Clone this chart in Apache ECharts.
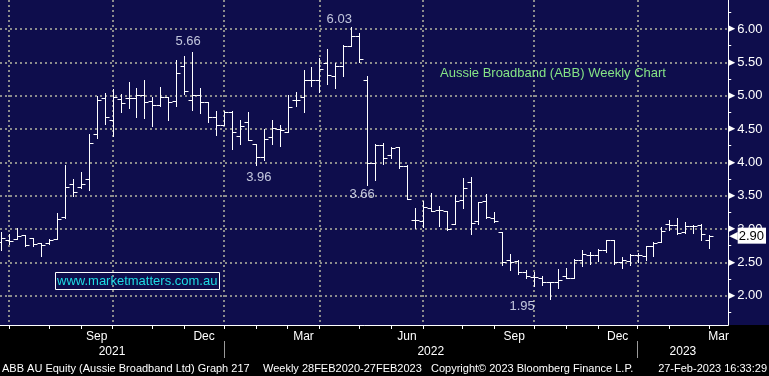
<!DOCTYPE html>
<html>
<head>
<meta charset="utf-8">
<script src="https://cdn.jsdelivr.net/npm/echarts@6/dist/echarts.min.js"></script>
<style>
  html, body { margin: 0; padding: 0; background: #000; }
  #chart { width: 769px; height: 376px; }
</style>
</head>
<body>
<div id="chart"></div>
<script>
// weekly bars (Friday dates, last one is the partial week as of 27 Feb)
const weeks = [
  '2021-06-18','2021-06-25','2021-07-02','2021-07-09','2021-07-16','2021-07-23','2021-07-30',
  '2021-08-06','2021-08-13','2021-08-20','2021-08-27',
  '2021-09-03','2021-09-10','2021-09-17','2021-09-24',
  '2021-10-01','2021-10-08','2021-10-15','2021-10-22','2021-10-29',
  '2021-11-05','2021-11-12','2021-11-19','2021-11-26',
  '2021-12-03','2021-12-10','2021-12-17','2021-12-24','2021-12-31',
  '2022-01-07','2022-01-14','2022-01-21','2022-01-28',
  '2022-02-04','2022-02-11','2022-02-18','2022-02-25',
  '2022-03-04','2022-03-11','2022-03-18','2022-03-25',
  '2022-04-01','2022-04-08','2022-04-15','2022-04-22','2022-04-29',
  '2022-05-06','2022-05-13','2022-05-20','2022-05-27',
  '2022-06-03','2022-06-10','2022-06-17','2022-06-24',
  '2022-07-01','2022-07-08','2022-07-15','2022-07-22','2022-07-29',
  '2022-08-05','2022-08-12','2022-08-19','2022-08-26',
  '2022-09-02','2022-09-09','2022-09-16','2022-09-23','2022-09-30',
  '2022-10-07','2022-10-14','2022-10-21','2022-10-28',
  '2022-11-04','2022-11-11','2022-11-18','2022-11-25',
  '2022-12-02','2022-12-09','2022-12-16','2022-12-23','2022-12-30',
  '2023-01-06','2023-01-13','2023-01-20','2023-01-27',
  '2023-02-03','2023-02-10','2023-02-17','2023-02-24','2023-02-27'
];
const opens = [
  2.80, 2.83, 2.85, 2.91, 2.86, 2.79, 2.79, 2.85, 3.18, 3.68,
  3.63, 3.75, 4.43, 4.96, 4.63, 4.95, 4.97, 4.97, 5.01, 4.92,
  4.86, 4.98, 4.92, 5.44, 4.94, 5.01, 4.90, 4.68, 4.56, 4.75,
  4.40, 4.61, 4.27, 4.08, 4.38, 4.50, 4.46, 4.93, 4.98, 5.23,
  5.23, 5.49, 5.29, 5.45, 5.75, 5.89, 5.24, 3.99, 4.26, 4.11,
  4.23, 3.95, 3.13, 3.12, 3.32, 3.29, 3.27, 3.08, 3.44, 3.70,
  3.12, 3.42, 3.16, 2.95, 2.54, 2.52, 2.36, 2.28, 2.27, 2.21,
  2.21, 2.29, 2.26, 2.54, 2.61, 2.61, 2.69, 2.83, 2.51, 2.52,
  2.61, 2.60, 2.75, 2.80, 3.07, 3.06, 2.95, 3.05, 3.06, 2.83
];
const highs = [
  2.95, 2.92, 3.02, 2.91, 2.86, 2.79, 2.85, 3.24, 3.96, 3.75,
  3.86, 4.43, 4.99, 5.04, 5.10, 5.03, 5.21, 5.11, 5.24, 4.98,
  5.13, 4.98, 5.54, 5.59, 5.66, 5.12, 4.91, 4.77, 4.77, 4.77,
  4.64, 4.76, 4.27, 4.50, 4.63, 4.56, 5.01, 5.06, 5.39, 5.43,
  5.56, 5.70, 5.49, 5.76, 6.03, 5.94, 5.29, 4.27, 4.29, 4.23,
  4.23, 3.96, 3.32, 3.42, 3.54, 3.35, 3.27, 3.51, 3.77, 3.78,
  3.40, 3.52, 3.26, 2.95, 2.62, 2.53, 2.38, 2.35, 2.29, 2.21,
  2.40, 2.41, 2.55, 2.68, 2.65, 2.70, 2.84, 2.84, 2.58, 2.62,
  2.64, 2.75, 2.80, 3.03, 3.14, 3.16, 3.11, 3.06, 3.07, 2.91
];
const lows = [
  2.68, 2.77, 2.85, 2.75, 2.74, 2.59, 2.77, 2.85, 3.17, 3.49,
  3.61, 3.59, 4.36, 4.57, 4.39, 4.75, 4.81, 4.68, 4.67, 4.55,
  4.84, 4.64, 4.85, 5.03, 4.79, 4.74, 4.60, 4.41, 4.56, 4.20,
  4.28, 4.34, 3.96, 4.03, 4.27, 4.25, 4.46, 4.84, 4.75, 5.15,
  5.06, 5.17, 5.11, 5.29, 5.74, 5.51, 3.66, 3.74, 3.97, 4.06,
  3.91, 3.45, 3.01, 3.03, 3.27, 3.05, 2.99, 3.07, 3.31, 2.92,
  3.08, 3.17, 3.10, 2.46, 2.39, 2.32, 2.26, 2.14, 2.16, 1.95,
  2.12, 2.26, 2.26, 2.44, 2.47, 2.52, 2.66, 2.48, 2.42, 2.46,
  2.51, 2.54, 2.60, 2.80, 2.99, 2.93, 2.94, 2.94, 2.84, 2.72
];
const closes = [
  2.86, 2.82, 2.89, 2.76, 2.78, 2.76, 2.84, 3.15, 3.63, 3.55,
  3.68, 4.29, 4.93, 4.68, 4.98, 4.89, 4.97, 5.01, 4.91, 4.86,
  4.98, 4.90, 5.34, 5.07, 5.01, 4.90, 4.68, 4.56, 4.75, 4.45,
  4.54, 4.34, 4.08, 4.35, 4.51, 4.48, 4.83, 4.93, 5.23, 5.23,
  5.40, 5.31, 5.45, 5.75, 5.89, 5.55, 3.99, 4.26, 4.06, 4.22,
  3.95, 3.45, 3.13, 3.33, 3.27, 3.29, 3.00, 3.42, 3.61, 3.09,
  3.40, 3.18, 3.12, 2.50, 2.50, 2.35, 2.29, 2.28, 2.21, 2.21,
  2.24, 2.26, 2.53, 2.63, 2.61, 2.69, 2.83, 2.50, 2.53, 2.61,
  2.61, 2.75, 2.79, 2.97, 3.06, 2.94, 3.04, 3.05, 2.92, 2.90
];

// turning points that get a price label
const notes = [
  { i: 24, end: 'high' },
  { i: 44, end: 'high' },
  { i: 32, end: 'low' },
  { i: 46, end: 'low' },
  { i: 69, end: 'low' }
];

const monthNames = ['Jan','Feb','Mar','Apr','May','Jun','Jul','Aug','Sep','Oct','Nov','Dec'];
const yMajor = [2.0, 2.5, 3.0, 3.5, 4.0, 4.5, 5.0, 5.5, 6.0];
const yMinor = [1.75, 2.25, 2.75, 3.25, 3.75, 4.25, 4.75, 5.25, 5.75, 6.25];

const titleText = 'Aussie Broadband (ABB) Weekly Chart';
const siteText = 'www.marketmatters.com.au';
const footer = [
  'ABB AU Equity (Aussie Broadband Ltd) Graph 217',
  'Weekly 28FEB2020-27FEB2023',
  'Copyright\u00a9 2023 Bloomberg Finance L.P.',
  '27-Feb-2023 16:33:29'
];

// ---- layout / style ----
const NAVY = '#0e0d4c';
const GRID = '#8c8c8c';
const X_MIN = -0.16, X_MAX = 91.4;
const Y_MIN = 1.56, Y_MAX = 6.435;
// label nudges for the turning points [dx, dy]
const noteOffsets = { 24: [-4, -4], 44: [-12, -1], 32: [3, 6], 46: [-5, 3], 69: [-28, 1] };

const mon = d => +d.slice(5, 7) - 1;
const yr = d => +d.slice(0, 4);
const last = weeks.length - 1;

// last bar of every month / quarter / year
const monthEnds = [];
weeks.forEach((d, i) => {
  if (i === last || mon(weeks[i + 1]) !== mon(d)) monthEnds.push(i);
});
const quarterEnds = monthEnds.filter(i => mon(weeks[i]) % 3 === 2);
const yearEnds = monthEnds.filter(i => mon(weeks[i]) === 11);

// month names centred in their month, only Mar/Jun/Sep/Dec
const monthLabels = [];
for (let k = 1; k < monthEnds.length; k++) {
  const m = mon(weeks[monthEnds[k]]);
  if (m % 3 === 2) monthLabels.push({ pos: (monthEnds[k - 1] + monthEnds[k]) / 2, text: monthNames[m] });
}
const nextM = (mon(weeks[last]) + 1) % 12;
if (nextM % 3 === 2) monthLabels.push({ pos: (last + X_MAX) / 2, text: monthNames[nextM] });

const yearBounds = [X_MIN, ...yearEnds, X_MAX];
const yearLabels = [];
for (let j = 0; j < yearBounds.length - 1; j++) {
  yearLabels.push({ pos: (yearBounds[j] + yearBounds[j + 1]) / 2, text: String(yr(weeks[0]) + j) });
}
const lookup = list => v => {
  const hit = list.find(l => Math.abs(l.pos - v) < 1e-6);
  return hit ? hit.text : '';
};

const lastClose = closes[last];

function renderBar(params, api) {
  const i = api.value(0);
  const pO = api.coord([i, api.value(1)]);
  const pH = api.coord([i, api.value(2)]);
  const pL = api.coord([i, api.value(3)]);
  const pC = api.coord([i, api.value(4)]);
  const x = Math.round(pH[0]) + 0.5;
  const yO = Math.round(pO[1]) + 0.5;
  const yC = Math.round(pC[1]) + 0.5;
  const style = { stroke: '#ffffff', lineWidth: 1 };
  return {
    type: 'group',
    children: [
      { type: 'line', shape: { x1: x, y1: Math.round(pH[1]), x2: x, y2: Math.round(pL[1]) + 1 }, style },
      { type: 'line', shape: { x1: x - 4, y1: yO, x2: x, y2: yO }, style },
      { type: 'line', shape: { x1: x, y1: yC, x2: x + 4, y2: yC }, style }
    ]
  };
}

const chart = echarts.init(document.getElementById('chart'));

const dotted = { color: GRID, width: 2, type: [2, 3] };
const font = 'Liberation Sans, Arial, sans-serif';
const footStyle = { color: '#ffffff', fontSize: 11, fontWeight: 'normal', fontFamily: font };

const option = {
  backgroundColor: '#000000',
  animation: false,
  graphic: [
    { type: 'rect', z: -10, silent: true, shape: { x: 0, y: 0, width: 769, height: 325 }, style: { fill: NAVY } }
  ],
  title: [
    { text: titleText, left: 440, top: 67, padding: 0,
      textStyle: { color: '#86e486', fontSize: 13, fontWeight: 'normal', fontFamily: font } },
    { text: siteText, left: 55, top: 272, padding: [2, 2, 2, 2], borderColor: '#ffffff', borderWidth: 1,
      textStyle: { color: '#1fdce4', fontSize: 13, lineHeight: 14, fontWeight: 'normal', fontFamily: font } },
    { text: footer[0], left: 2, top: 363, padding: 0, textStyle: footStyle },
    { text: footer[1], left: 263, top: 363, padding: 0, textStyle: footStyle },
    { text: footer[2], left: 431, top: 363, padding: 0, textStyle: footStyle },
    { text: footer[3], right: 2, top: 363, padding: 0, textStyle: footStyle }
  ],
  grid: { left: 0, right: 38, top: 0, bottom: 51, containLabel: false },
  xAxis: [
    { // month ticks + month names
      type: 'value', min: X_MIN, max: X_MAX, position: 'bottom',
      axisLine: { show: true, onZero: false, lineStyle: { color: '#ffffff', width: 1 } },
      axisTick: { show: true, length: 4, customValues: monthEnds, lineStyle: { color: '#ffffff' } },
      axisLabel: { customValues: monthLabels.map(l => l.pos), formatter: lookup(monthLabels), margin: 6,
        color: '#ffffff', fontSize: 12, fontFamily: font },
      splitLine: { show: false }
    },
    { // quarter grid lines
      type: 'value', min: X_MIN, max: X_MAX, position: 'bottom',
      axisLine: { show: false, onZero: false },
      axisTick: { show: false, customValues: quarterEnds },
      axisLabel: { show: false },
      splitLine: { show: true, lineStyle: dotted }
    },
    { // year row
      type: 'value', min: X_MIN, max: X_MAX, position: 'bottom', offset: 16,
      axisLine: { show: false, onZero: false },
      axisTick: { show: true, length: 17, customValues: yearEnds, lineStyle: { color: '#9a9a9a' } },
      axisLabel: { customValues: yearLabels.map(l => l.pos), formatter: lookup(yearLabels), margin: 5,
        color: '#ffffff', fontSize: 12, fontFamily: font },
      splitLine: { show: false }
    }
  ],
  yAxis: [
    {
      type: 'value', min: Y_MIN, max: Y_MAX, position: 'right',
      axisLine: { show: true, onZero: false, lineStyle: { color: '#ffffff', width: 1 } },
      axisTick: { show: false, customValues: yMajor },
      splitLine: { show: true, lineStyle: dotted },
      axisLabel: {
        customValues: yMajor, margin: 0,
        formatter: v => '{t|\u25B6}{n|' + v.toFixed(2) + '}',
        rich: {
          t: { color: '#ffffff', fontSize: 9, fontFamily: 'DejaVu Sans' },
          n: { color: '#ffffff', fontSize: 13, fontFamily: font, padding: [0, 0, 0, 2] }
        }
      }
    },
    {
      type: 'value', min: Y_MIN, max: Y_MAX, position: 'right',
      axisLine: { show: false, onZero: false },
      axisTick: { show: true, length: 3, customValues: yMinor, lineStyle: { color: '#ffffff' } },
      axisLabel: { show: false },
      splitLine: { show: false }
    },
    {
      type: 'value', min: Y_MIN, max: Y_MAX, position: 'right',
      axisLine: { show: false, onZero: false },
      axisTick: { show: false },
      splitLine: { show: false },
      axisLabel: {
        customValues: [lastClose], margin: 1,
        formatter: v => '{a|\u25C0}{b|' + v.toFixed(2) + '}',
        rich: {
          a: { color: '#ffffff', fontSize: 11, fontFamily: 'DejaVu Sans' },
          b: { color: '#000000', backgroundColor: '#ffffff', fontSize: 13, fontFamily: font,
               padding: [2, 2, 1, 1] }
        }
      }
    }
  ],
  series: [
    {
      type: 'custom',
      name: 'ABB',
      xAxisIndex: 0,
      yAxisIndex: 0,
      renderItem: renderBar,
      encode: { x: 0, y: [1, 2, 3, 4] },
      data: weeks.map((d, i) => [i, opens[i], highs[i], lows[i], closes[i]]),
      silent: true,
      z: 5
    },
    {
      type: 'scatter',
      xAxisIndex: 0,
      yAxisIndex: 0,
      symbolSize: 0,
      silent: true,
      z: 6,
      data: notes.map(n => ({
        value: [n.i, n.end === 'high' ? highs[n.i] : lows[n.i]],
        label: { position: n.end === 'high' ? 'top' : 'bottom', offset: noteOffsets[n.i] }
      })),
      label: {
        show: true, distance: 0, color: '#eef3ff', fontSize: 13, fontFamily: font,
        formatter: p => p.value[1].toFixed(2)
      }
    }
  ]
};

chart.setOption(option);
</script>
</body>
</html>
